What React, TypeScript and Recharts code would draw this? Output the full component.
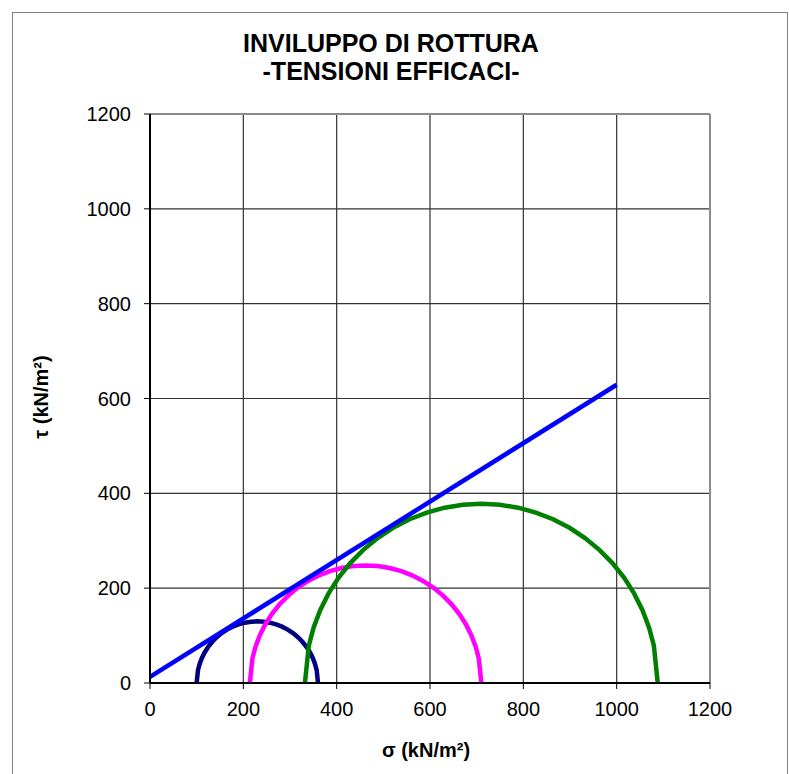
import React from "react";
import {
  LineChart,
  Line,
  XAxis,
  YAxis,
  CartesianGrid,
  ReferenceLine,
} from "recharts";

const FONT = '"Liberation Sans", Arial, sans-serif';

const COLORS = {
  envelope: "#0000ff",
  small: "#000080",
  medium: "#ff00ff",
  large: "#008000",
  grid: "#333333",
  border: "#8c8c8c",
};

const TICKS = [0, 200, 400, 600, 800, 1000, 1200];

// inviluppo di rottura (retta)
const envelope = [
  { x: 0, y: 13 },
  { x: 1000, y: 629 },
];

// cerchio di Mohr 1 (blu scuro)
const circleSmall = [
  { x: 100, y: 0 },
  { x: 102.8, y: 27 },
  { x: 106.4, y: 40.2 },
  { x: 111.2, y: 52.9 },
  { x: 117.4, y: 65 },
  { x: 124.8, y: 76.4 },
  { x: 133.4, y: 87 },
  { x: 143, y: 96.6 },
  { x: 153.6, y: 105.2 },
  { x: 165, y: 112.6 },
  { x: 177.1, y: 118.8 },
  { x: 189.8, y: 123.6 },
  { x: 203, y: 127.2 },
  { x: 216.4, y: 129.3 },
  { x: 230, y: 130 },
  { x: 243.6, y: 129.3 },
  { x: 257, y: 127.2 },
  { x: 270.2, y: 123.6 },
  { x: 282.9, y: 118.8 },
  { x: 295, y: 112.6 },
  { x: 306.4, y: 105.2 },
  { x: 317, y: 96.6 },
  { x: 326.6, y: 87 },
  { x: 335.2, y: 76.4 },
  { x: 342.6, y: 65 },
  { x: 348.8, y: 52.9 },
  { x: 353.6, y: 40.2 },
  { x: 357.2, y: 27 },
  { x: 360, y: 0 },
];

// cerchio di Mohr 2 (magenta)
const circleMedium = [
  { x: 214, y: 0 },
  { x: 219.4, y: 51.6 },
  { x: 226.1, y: 76.6 },
  { x: 235.5, y: 100.9 },
  { x: 247.2, y: 124 },
  { x: 261.4, y: 145.8 },
  { x: 277.7, y: 165.9 },
  { x: 296.1, y: 184.3 },
  { x: 316.2, y: 200.6 },
  { x: 338, y: 214.8 },
  { x: 361.1, y: 226.5 },
  { x: 385.4, y: 235.9 },
  { x: 410.4, y: 242.6 },
  { x: 436.1, y: 246.6 },
  { x: 462, y: 248 },
  { x: 487.9, y: 246.6 },
  { x: 513.6, y: 242.6 },
  { x: 538.6, y: 235.9 },
  { x: 562.9, y: 226.5 },
  { x: 586, y: 214.8 },
  { x: 607.8, y: 200.6 },
  { x: 627.9, y: 184.3 },
  { x: 646.3, y: 165.9 },
  { x: 662.6, y: 145.8 },
  { x: 676.8, y: 124 },
  { x: 688.5, y: 100.9 },
  { x: 697.9, y: 76.6 },
  { x: 704.6, y: 51.6 },
  { x: 710, y: 0 },
];

// cerchio di Mohr 3 (verde)
const circleLarge = [
  { x: 332, y: 0 },
  { x: 340.3, y: 78.6 },
  { x: 350.5, y: 116.8 },
  { x: 364.7, y: 153.7 },
  { x: 382.7, y: 189 },
  { x: 404.2, y: 222.2 },
  { x: 429.1, y: 252.9 },
  { x: 457.1, y: 280.9 },
  { x: 487.8, y: 305.8 },
  { x: 521, y: 327.3 },
  { x: 556.3, y: 345.3 },
  { x: 593.2, y: 359.5 },
  { x: 631.4, y: 369.7 },
  { x: 670.5, y: 375.9 },
  { x: 710, y: 378 },
  { x: 749.5, y: 375.9 },
  { x: 788.6, y: 369.7 },
  { x: 826.8, y: 359.5 },
  { x: 863.7, y: 345.3 },
  { x: 899, y: 327.3 },
  { x: 932.2, y: 305.8 },
  { x: 962.9, y: 280.9 },
  { x: 990.9, y: 252.9 },
  { x: 1015.8, y: 222.2 },
  { x: 1037.3, y: 189 },
  { x: 1055.3, y: 153.7 },
  { x: 1069.5, y: 116.8 },
  { x: 1079.7, y: 78.6 },
  { x: 1088, y: 0 },
];

const tickStyle = { fontSize: 20, fill: "#000", fontFamily: FONT };

export default function App() {
  return (
    <div style={{ position: "absolute", left: 0, top: 0, width: 789, height: 774, overflow: "hidden", background: "#fff", fontFamily: FONT }}>
      <div
        style={{
          position: "absolute",
          left: 12,
          top: 12,
          width: 774,
          height: 800,
          border: "1px solid #808080",
        }}
      />
      <div
        style={{
          position: "absolute",
          left: 0,
          top: 29,
          width: 782,
          textAlign: "center",
          fontSize: 25,
          fontWeight: "bold",
          lineHeight: "28px",
          color: "#000",
        }}
      >
        INVILUPPO DI ROTTURA
        <br />
        -TENSIONI EFFICACI-
      </div>

      <div style={{ position: "absolute", left: 0, top: 0 }}>
        <LineChart
          width={789}
          height={774}
          margin={{ top: 114, right: 79, bottom: 61, left: 60 }}
        >
          <CartesianGrid stroke={COLORS.grid} strokeWidth={1.2} />
          <XAxis
            type="number"
            dataKey="x"
            domain={[0, 1200]}
            ticks={TICKS}
            height={30}
            allowDataOverflow
            tick={tickStyle}
            tickSize={6}
            tickMargin={13}
            stroke="#000"
            axisLine={{ stroke: "#000", strokeWidth: 2 }}
            tickLine={{ stroke: "#000" }}
          />
          <YAxis
            type="number"
            dataKey="y"
            domain={[0, 1200]}
            ticks={TICKS}
            width={90}
            allowDataOverflow
            tick={tickStyle}
            tickSize={6}
            tickMargin={13}
            stroke="#000"
            axisLine={{ stroke: "#000", strokeWidth: 2 }}
            tickLine={{ stroke: "#000" }}
          />
          <ReferenceLine y={1200} stroke={COLORS.border} strokeWidth={2} />
          <ReferenceLine x={1200} stroke={COLORS.border} strokeWidth={2} />
          <Line data={circleSmall} dataKey="y" stroke={COLORS.small} strokeWidth={4.5} dot={false} isAnimationActive={false} />
          <Line data={circleMedium} dataKey="y" stroke={COLORS.medium} strokeWidth={4.5} dot={false} isAnimationActive={false} />
          <Line data={circleLarge} dataKey="y" stroke={COLORS.large} strokeWidth={4.5} dot={false} isAnimationActive={false} />
          <Line data={envelope} dataKey="y" stroke={COLORS.envelope} strokeWidth={4.5} dot={false} isAnimationActive={false} />
        </LineChart>
      </div>

      <div
        style={{
          position: "absolute",
          left: 326,
          top: 738,
          width: 200,
          textAlign: "center",
          fontSize: 20,
          fontWeight: "bold",
          lineHeight: "24px",
        }}
      >
        σ (kN/m²)
      </div>
      <div
        style={{
          position: "absolute",
          left: 41 - 100,
          top: 397 - 12,
          width: 200,
          textAlign: "center",
          fontSize: 20,
          fontWeight: "bold",
          lineHeight: "24px",
          transform: "rotate(-90deg)",
        }}
      >
        τ (kN/m²)
      </div>
    </div>
  );
}
